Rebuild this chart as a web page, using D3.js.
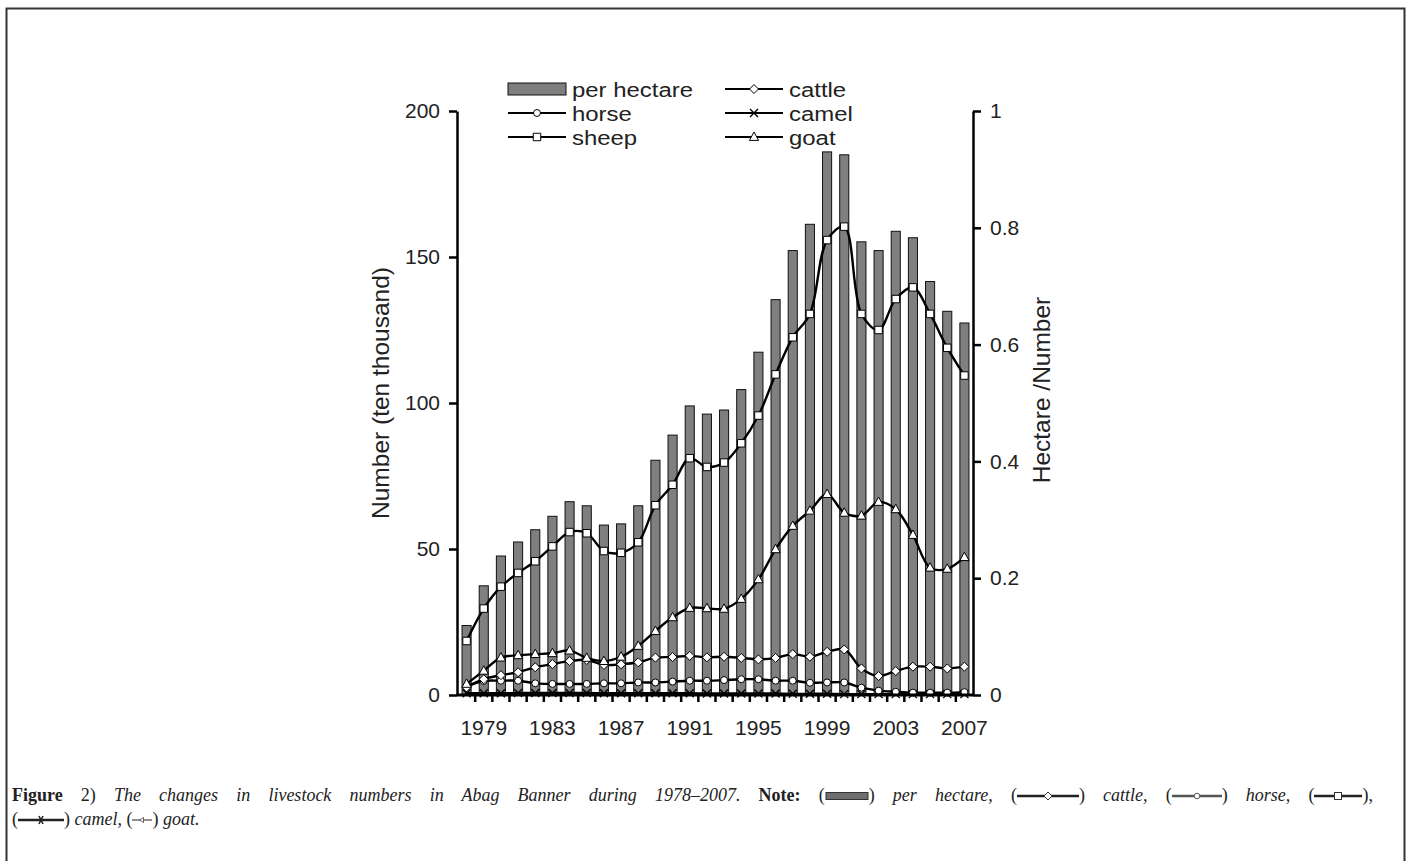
<!DOCTYPE html>
<html>
<head>
<meta charset="utf-8">
<script src="https://cdn.jsdelivr.net/npm/d3@7/dist/d3.min.js"></script>
<style>
  html, body { margin: 0; padding: 0; background: #fff; }
  #wrap { position: relative; width: 1413px; height: 861px; overflow: hidden; }
  svg { position: absolute; left: 0; top: 0; }
  .caption {
    position: absolute; left: 12px; width: 1361px;
    font-family: "Liberation Serif", "DejaVu Serif", serif;
    font-size: 18px; color: #222; line-height: 24px; white-space: nowrap;
  }
  .caption i { font-style: italic; }
  .caption b { font-weight: bold; font-style: normal; }
  .justify { text-align: justify; text-align-last: justify; white-space: normal; }
  .caption svg { position: static; vertical-align: -1px; }
</style>
</head>
<body>
<div id="wrap"></div>
<script>
// Livestock numbers in Abag Banner, 1978–2007 (ten thousand head)
const years = d3.range(1978, 2008);
const perHectare = [0.119, 0.187, 0.238, 0.262, 0.283, 0.306, 0.331, 0.324, 0.291, 0.293,
                    0.324, 0.402, 0.445, 0.495, 0.481, 0.488, 0.523, 0.587, 0.677, 0.761,
                    0.806, 0.930, 0.925, 0.776, 0.761, 0.794, 0.783, 0.708, 0.657, 0.637];
const sheep  = [18.5, 29.6, 37.1, 41.8, 45.8, 50.9, 55.8, 55.4, 49.3, 48.7,
                52.3, 65.0, 72.0, 81.1, 78.1, 79.6, 86.2, 95.7, 109.8, 122.5,
                130.5, 155.8, 160.4, 130.5, 125.0, 135.6, 139.6, 130.5, 118.9, 109.4];
const goat   = [3.8, 8.3, 12.8, 13.6, 14.0, 14.3, 15.2, 12.7, 11.6, 13.1,
                16.8, 21.9, 26.6, 29.8, 29.7, 29.5, 32.9, 39.6, 49.9, 57.9,
                63.1, 68.8, 62.4, 61.4, 66.1, 63.6, 54.8, 43.6, 43.2, 47.2];
const cattle = [2.6, 5.4, 6.8, 7.8, 9.5, 10.6, 11.6, 12.0, 10.3, 10.5,
                11.2, 12.8, 13.0, 13.4, 12.9, 13.1, 12.7, 12.2, 12.7, 14.0,
                13.1, 14.8, 15.6, 9.1, 6.5, 8.2, 9.7, 9.7, 9.1, 9.7];
const horse  = [3.0, 4.8, 4.9, 4.9, 4.0, 3.8, 3.8, 3.8, 4.0, 4.0,
                4.3, 4.3, 4.6, 4.9, 4.9, 5.1, 5.4, 5.4, 4.9, 4.9,
                4.2, 4.3, 4.3, 2.5, 1.5, 1.1, 0.8, 0.8, 0.8, 1.0];
const camel  = [0.6, 0.6, 0.6, 0.7, 0.7, 0.7, 0.7, 0.7, 0.6, 0.6,
                0.6, 0.6, 0.6, 0.6, 0.5, 0.5, 0.5, 0.5, 0.5, 0.4,
                0.4, 0.4, 0.3, 0.3, 0.3, 0.3, 0.3, 0.3, 0.3, 0.3];
const leftTicks  = [0, 50, 100, 150, 200];
const rightTicks = [0, 0.2, 0.4, 0.6, 0.8, 1];
const yearLabels = [1979, 1983, 1987, 1991, 1995, 1999, 2003, 2007];

const W = 1413, H = 861;
const FONT = '"Liberation Sans", Arial, sans-serif';
const wrap = d3.select('#wrap');
const svg = wrap.append('svg').attr('width', W).attr('height', H);

// frame around the figure
svg.append('rect').attr('x', 6.5).attr('y', 8.5).attr('width', 1398).attr('height', 900)
  .attr('fill', 'none').attr('stroke', '#333').attr('stroke-width', 2);

const x = d3.scaleBand().domain(years).range([458, 973]).paddingInner(0.47).paddingOuter(0.235);
const yL = d3.scaleLinear().domain([0, 200]).range([695, 111]);
const yR = d3.scaleLinear().domain([0, 1]).range([695, 111]);
const cx = d => x(d) + x.bandwidth() / 2;

// bars: per hectare (right axis)
svg.append('g').selectAll('rect').data(years).join('rect')
  .attr('x', d => x(d)).attr('width', x.bandwidth())
  .attr('y', (d, i) => yR(perHectare[i]))
  .attr('height', (d, i) => yR(0) - yR(perHectare[i]))
  .attr('fill', '#7f7f7f').attr('stroke', '#111').attr('stroke-width', 1);

// marker shapes
function marker(g, type, px, py) {
  const s = g.append('path').attr('fill', '#fff').attr('stroke', '#000').attr('stroke-width', 1);
  if (type === 'square') s.attr('d', d3.symbol(d3.symbolSquare, 56)()).attr('transform', `translate(${px},${py})`);
  else if (type === 'triangle') s.attr('d', `M0,-5L4.6,3.4L-4.6,3.4Z`).attr('transform', `translate(${px},${py})`);
  else if (type === 'diamond') s.attr('d', `M0,-4.5L4.5,0L0,4.5L-4.5,0Z`).attr('transform', `translate(${px},${py})`);
  else if (type === 'circle') s.attr('d', d3.symbol(d3.symbolCircle, 38)()).attr('transform', `translate(${px},${py})`);
  else if (type === 'cross') { s.remove(); g.append('path').attr('d', 'M-4,-4L4,4M-4,4L4,-4')
      .attr('stroke', '#000').attr('stroke-width', 1.4).attr('transform', `translate(${px},${py})`); }
}

const series = [
  { name: 'camel',  vals: camel,  type: 'cross' },
  { name: 'horse',  vals: horse,  type: 'circle' },
  { name: 'cattle', vals: cattle, type: 'diamond' },
  { name: 'goat',   vals: goat,   type: 'triangle' },
  { name: 'sheep',  vals: sheep,  type: 'square' }
];
const line = d3.line().curve(d3.curveCatmullRom.alpha(0.5));
series.forEach(s => {
  const g = svg.append('g');
  const pts = years.map((yr, i) => [cx(yr), yL(s.vals[i])]);
  g.append('path').attr('d', line(pts)).attr('fill', 'none')
    .attr('stroke', '#000').attr('stroke-width', 2.4);
  pts.forEach(p => marker(g, s.type, p[0], p[1]));
});

// left axis
const axL = svg.append('g').attr('transform', 'translate(457,0)')
  .call(d3.axisLeft(yL).tickValues(leftTicks).tickSize(8).tickSizeOuter(0).tickPadding(9));
// right axis
const axR = svg.append('g').attr('transform', 'translate(973,0)')
  .call(d3.axisRight(yR).tickValues(rightTicks).tickFormat(d => d === 0 || d === 1 ? d : d.toFixed(1))
    .tickSize(8).tickSizeOuter(0).tickPadding(9));
[axL, axR].forEach(a => {
  a.select('.domain').attr('stroke', '#000').attr('stroke-width', 2.5);
  a.selectAll('.tick line').attr('stroke', '#000').attr('stroke-width', 2.5);
  a.selectAll('.tick text').attr('font-family', FONT).attr('font-size', 21).attr('fill', '#222');
});

// x axis: baseline, ticks at category boundaries, year labels
const gx = svg.append('g');
gx.append('line').attr('x1', 457).attr('x2', 973).attr('y1', 695).attr('y2', 695)
  .attr('stroke', '#000').attr('stroke-width', 3);
gx.selectAll('line.tk').data(years.slice(1)).join('line').attr('class', 'tk')
  .attr('x1', d => x(d) - x.step() * x.paddingInner() / 2).attr('x2', d => x(d) - x.step() * x.paddingInner() / 2)
  .attr('y1', 695).attr('y2', 702).attr('stroke', '#000').attr('stroke-width', 2.5);
gx.selectAll('text').data(yearLabels).join('text')
  .attr('x', d => cx(d)).attr('y', 735).attr('text-anchor', 'middle')
  .attr('font-family', FONT).attr('font-size', 21).attr('fill', '#222').text(d => d);

// axis titles
svg.append('text').attr('transform', 'translate(389,393) rotate(-90)').attr('text-anchor', 'middle')
  .attr('font-family', FONT).attr('font-size', 24.5).attr('fill', '#222').text('Number (ten thousand)');
svg.append('text').attr('transform', 'translate(1050,390) rotate(-90)').attr('text-anchor', 'middle')
  .attr('font-family', FONT).attr('font-size', 24.5).attr('fill', '#222').text('Hectare /Number');

// legend (two columns, three rows; labels set slightly wide)
const legendItems = [
  { label: 'per hectare', type: 'bar',      col: 0, row: 0 },
  { label: 'horse',       type: 'circle',   col: 0, row: 1 },
  { label: 'sheep',       type: 'square',   col: 0, row: 2 },
  { label: 'cattle',      type: 'diamond',  col: 1, row: 0 },
  { label: 'camel',       type: 'cross',    col: 1, row: 1 },
  { label: 'goat',        type: 'triangle', col: 1, row: 2 }
];
const colX = [508, 725], rowY = [89, 113, 137];
legendItems.forEach(it => {
  const g = svg.append('g');
  const x0 = colX[it.col], yy = rowY[it.row];
  if (it.type === 'bar') {
    g.append('rect').attr('x', x0).attr('y', yy - 6).attr('width', 58).attr('height', 12)
      .attr('fill', '#7f7f7f').attr('stroke', '#111').attr('stroke-width', 1);
  } else {
    g.append('line').attr('x1', x0).attr('x2', x0 + 58).attr('y1', yy).attr('y2', yy)
      .attr('stroke', '#000').attr('stroke-width', 2.2);
    marker(g, it.type, x0 + 29, yy);
  }
  g.append('text').attr('transform', `translate(${x0 + 64},${yy + 7.5}) scale(1.14,1)`)
    .attr('font-family', FONT).attr('font-size', 21).attr('fill', '#222').text(it.label);
});

// caption with small inline keys
function key(parent, type, w) {
  const k = parent.append('svg').attr('width', w).attr('height', 12);
  if (type === 'bar') {
    k.append('rect').attr('x', 1).attr('y', 2.5).attr('width', w - 2).attr('height', 7)
      .attr('fill', '#6e6e6e').attr('stroke', '#333');
    return;
  }
  k.append('line').attr('x1', 0).attr('x2', w).attr('y1', 6).attr('y2', 6)
    .attr('stroke', type === 'horse' ? '#555' : '#222').attr('stroke-width', type === 'goat' ? 1 : 2.4);
  if (type === 'cattle') k.append('path').attr('d', `M${w/2},2L${w/2+4},6L${w/2},10L${w/2-4},6Z`).attr('fill', '#fff').attr('stroke', '#333');
  if (type === 'horse') k.append('circle').attr('cx', w/2).attr('cy', 6).attr('r', 2.8).attr('fill', '#fff').attr('stroke', '#555');
  if (type === 'sheep') k.append('rect').attr('x', w/2 - 3.5).attr('y', 2.5).attr('width', 7).attr('height', 7).attr('fill', '#fff').attr('stroke', '#333');
  if (type === 'camel') k.append('path').attr('d', `M${w/2-2},2L${w/2+2},10M${w/2+2},2L${w/2-2},10`).attr('stroke', '#222').attr('stroke-width', 1.6);
  if (type === 'goat') k.append('path').attr('d', `M${w/2-2.5},6L${w/2+1.5},3.5L${w/2+1.5},8.5Z`).attr('fill', '#fff').attr('stroke', '#444').attr('stroke-width', 0.8);
}
const l1 = wrap.append('div').attr('class', 'caption justify').style('top', '783px');
l1.append('b').text('Figure');
l1.append('span').text(' 2) ');
l1.append('i').text('The changes in livestock numbers in Abag Banner during 1978–2007. ');
l1.append('b').text('Note: ');
l1.append('span').text('(');
key(l1, 'bar', 44);
l1.append('span').text(') ');
l1.append('i').text('per hectare, ');
l1.append('span').text('(');
key(l1, 'cattle', 62);
l1.append('span').text(') ');
l1.append('i').text('cattle, ');
l1.append('span').text('(');
key(l1, 'horse', 50);
l1.append('span').text(') ');
l1.append('i').text('horse, ');
l1.append('span').text('(');
key(l1, 'sheep', 48);
l1.append('span').text('),');
const l2 = wrap.append('div').attr('class', 'caption').style('top', '807px');
l2.append('span').text('(');
key(l2, 'camel', 46);
l2.append('span').text(') ');
l2.append('i').text('camel, ');
l2.append('span').text('(');
key(l2, 'goat', 20);
l2.append('span').text(') ');
l2.append('i').text('goat.');
</script>
</body>
</html>
